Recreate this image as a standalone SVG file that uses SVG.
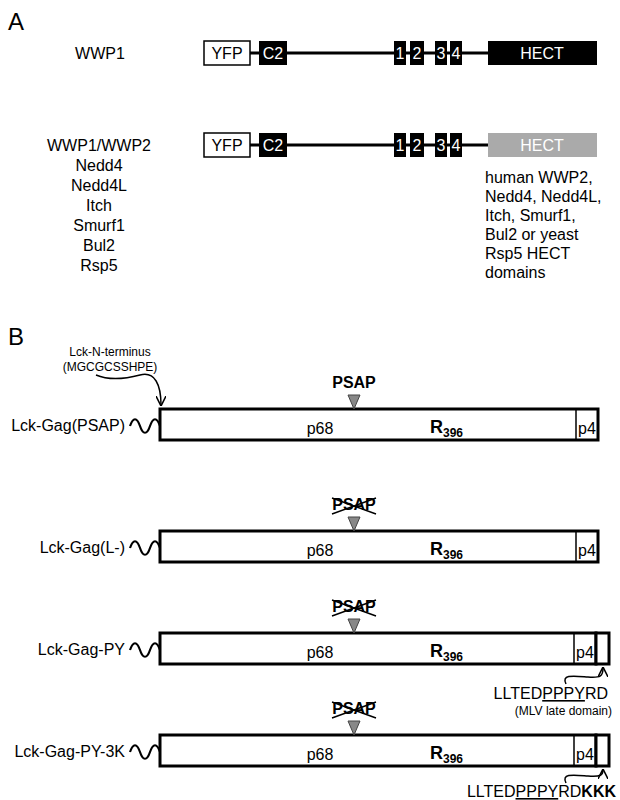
<svg xmlns="http://www.w3.org/2000/svg" width="620" height="800" viewBox="0 0 620 800">
<style>
text{font-family:"Liberation Sans",Arial,sans-serif;fill:#000}
.t{font-size:16px}.s{font-size:12px}.big{font-size:24px}
.w{fill:#fff;font-size:16px}
.bar{fill:#fff;stroke:#000;stroke-width:3}
.ln{stroke:#000;stroke-width:3;fill:none}
.thin{stroke:#000;stroke-width:1.5;fill:none}
.wave{stroke:#000;stroke-width:2.2;fill:none}
.tri{fill:#888;stroke:#444;stroke-width:1}
</style>
<defs>
<marker id="ah" viewBox="0 0 10 10" refX="9" refY="5" markerWidth="7" markerHeight="7" orient="auto"><path d="M0,0 L10,5 L0,10" fill="none" stroke="#000" stroke-width="1.5"/></marker>
<g id="dom">
<line x1="250" y1="0" x2="490" y2="0" class="ln"/>
<rect x="204" y="-12" width="46" height="24" fill="#fff" stroke="#000" stroke-width="1.5"/>
<text x="227" y="6" class="t" text-anchor="middle">YFP</text>
<rect x="259" y="-12" width="28" height="24" fill="#000"/>
<text x="273" y="6" class="w" text-anchor="middle">C2</text>
<rect x="394" y="-12" width="12" height="24" fill="#000"/><text x="400" y="6" class="w" text-anchor="middle">1</text>
<rect x="410" y="-12" width="14" height="24" fill="#000"/><text x="417" y="6" class="w" text-anchor="middle">2</text>
<rect x="435" y="-12" width="12" height="24" fill="#000"/><text x="441" y="6" class="w" text-anchor="middle">3</text>
<rect x="450" y="-12" width="12" height="24" fill="#000"/><text x="456" y="6" class="w" text-anchor="middle">4</text>
</g>
<path id="wv" d="M130,0 c3,-9 7,-9 10,0 s7,9 10,0 s7,-9 10,0" class="wave"/>
</defs>
<text x="8" y="30" class="big">A</text>
<text x="8" y="345" class="big">B</text>
<g id="wwp1">
<use href="#dom" y="53"/>
<rect x="488" y="41" width="109" height="24" fill="#000"/>
<text x="542" y="59" class="w" text-anchor="middle">HECT</text>
<text x="100" y="59" class="t" text-anchor="middle">WWP1</text>
</g>
<g id="chimera">
<use href="#dom" y="145"/>
<rect x="488" y="133" width="109" height="24" fill="#aaa"/>
<text x="542" y="151" class="w" text-anchor="middle">HECT</text>
<g class="t" text-anchor="middle">
<text x="99" y="151">WWP1/WWP2</text><text x="99" y="171">Nedd4</text><text x="99" y="191">Nedd4L</text><text x="99" y="211">Itch</text><text x="99" y="231">Smurf1</text><text x="99" y="251">Bul2</text><text x="99" y="271">Rsp5</text>
</g>
<g class="t">
<text x="485" y="183">human WWP2,</text><text x="485" y="202">Nedd4, Nedd4L,</text><text x="485" y="221">Itch, Smurf1,</text><text x="485" y="240">Bul2 or yeast</text><text x="485" y="259">Rsp5 HECT</text><text x="485" y="278">domains</text>
</g>
</g>
<g id="gag1">
<use href="#wv" y="426"/>
<rect x="160" y="409" width="438" height="31" class="bar"/>
<line x1="576" y1="409" x2="576" y2="440" stroke="#000" stroke-width="1.5"/>
<text x="125" y="431" class="t" text-anchor="end">Lck-Gag(PSAP)</text>
<text x="320" y="434" class="t" text-anchor="middle">p68</text>
<text x="430" y="433" font-size="18" font-weight="bold">R<tspan font-size="12" dy="4">396</tspan></text>
<text x="587" y="434" class="t" text-anchor="middle">p4</text>
<path d="M348,395 L360,395 L354,409 Z" class="tri"/>
<text x="354" y="388" class="t" font-weight="bold" text-anchor="middle">PSAP</text>
<text x="110" y="356" class="s" text-anchor="middle">Lck-N-terminus</text>
<text x="110" y="371" class="s" text-anchor="middle">(MGCGCSSHPE)</text>
</g>
<g id="gag2">
<use href="#wv" y="548"/>
<rect x="160" y="531" width="438" height="31" class="bar"/>
<line x1="576" y1="531" x2="576" y2="562" stroke="#000" stroke-width="1.5"/>
<text x="125" y="553" class="t" text-anchor="end">Lck-Gag(L-)</text>
<text x="320" y="556" class="t" text-anchor="middle">p68</text>
<text x="430" y="555" font-size="18" font-weight="bold">R<tspan font-size="12" dy="4">396</tspan></text>
<text x="587" y="556" class="t" text-anchor="middle">p4</text>
<path d="M348,517 L360,517 L354,531 Z" class="tri"/>
<text x="354" y="510" class="t" font-weight="bold" text-anchor="middle">PSAP</text>
<path d="M332,498 L376,514 M332,514 L376,498" class="thin" stroke-width="1.2"/>
</g>
<g id="gag3">
<use href="#wv" y="650"/>
<rect x="160" y="633" width="436" height="31" class="bar"/>
<rect x="596" y="633" width="13" height="31" class="bar"/>
<line x1="574" y1="633" x2="574" y2="664" stroke="#000" stroke-width="1.5"/>
<text x="125" y="655" class="t" text-anchor="end">Lck-Gag-PY</text>
<text x="320" y="658" class="t" text-anchor="middle">p68</text>
<text x="430" y="657" font-size="18" font-weight="bold">R<tspan font-size="12" dy="4">396</tspan></text>
<text x="585" y="658" class="t" text-anchor="middle">p4</text>
<path d="M348,619 L360,619 L354,633 Z" class="tri"/>
<text x="354" y="612" class="t" font-weight="bold" text-anchor="middle">PSAP</text>
<path d="M332,600 L376,616 M332,616 L376,600" class="thin" stroke-width="1.2"/>
<text x="608" y="699" class="t" text-anchor="end">LLTED<tspan text-decoration="underline">PPPY</tspan>RD</text>
<text x="612" y="715" class="s" text-anchor="end">(MLV late domain)</text>
</g>
<g id="gag4">
<use href="#wv" y="752"/>
<rect x="160" y="735" width="436" height="31" class="bar"/>
<rect x="596" y="735" width="13" height="31" class="bar"/>
<line x1="574" y1="735" x2="574" y2="766" stroke="#000" stroke-width="1.5"/>
<text x="125" y="757" class="t" text-anchor="end">Lck-Gag-PY-3K</text>
<text x="320" y="760" class="t" text-anchor="middle">p68</text>
<text x="430" y="759" font-size="18" font-weight="bold">R<tspan font-size="12" dy="4">396</tspan></text>
<text x="585" y="760" class="t" text-anchor="middle">p4</text>
<path d="M348,721 L360,721 L354,735 Z" class="tri"/>
<text x="354" y="714" class="t" font-weight="bold" text-anchor="middle">PSAP</text>
<path d="M332,702 L376,718 M332,718 L376,702" class="thin" stroke-width="1.2"/>
<text x="616" y="797" class="t" text-anchor="end">LLTED<tspan text-decoration="underline">PPPY</tspan>RD<tspan font-weight="bold">KKK</tspan></text>
</g>
<g id="connectors">
<path d="M96,375 C110,381 125,379 140,375 C155,371 161,385 161,405" class="thin" marker-end="url(#ah)"/>
<path d="M566,684 C561,674 574,676 588,677 C601,678 603,676 603,668" class="thin" marker-end="url(#ah)"/>
<path d="M566,783 C561,773 574,775 588,776 C601,777 603,775 603,770" class="thin" marker-end="url(#ah)"/>
</g>
</svg>
